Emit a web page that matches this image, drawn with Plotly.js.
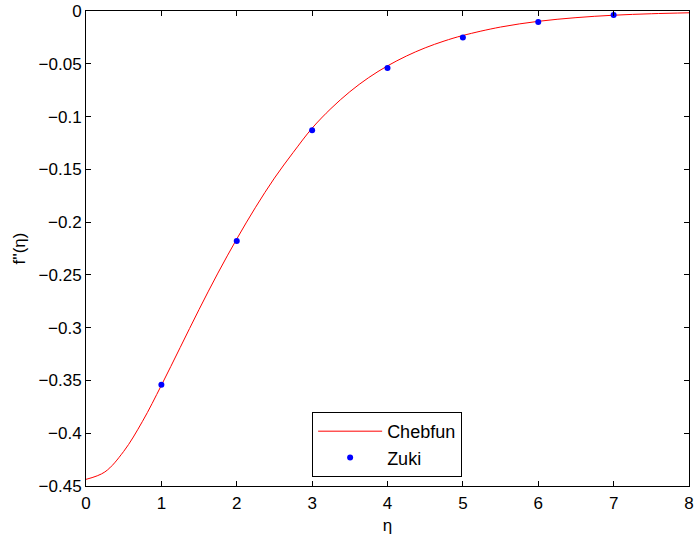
<!DOCTYPE html>
<html>
<head>
<meta charset="utf-8">
<script src="https://cdn.plot.ly/plotly-3.0.1.min.js"></script>
<style>html,body{margin:0;padding:0;background:#fff;}#chart{width:694px;height:538px;}</style>
</head>
<body>
<div id="chart"></div>
<script>
// Chebfun solution f''(eta)
const etaCurve = [0,0.25,0.5,0.75,1.0,1.25,1.5,1.75,2.0,2.25,2.5,2.75,3.0,3.25,3.5,3.75,4.0,4.25,4.5,4.75,5.0,5.5,6.0,6.5,7.0,7.5,8.0];
const fppCurve = [-0.4437,-0.4367,-0.4172,-0.3887,-0.3546,-0.3187,-0.2828,-0.2483,-0.2160,-0.1859,-0.1583,-0.1339,-0.1110,-0.0924,-0.0765,-0.0631,-0.0520,-0.0427,-0.0349,-0.0285,-0.0232,-0.0152,-0.0098,-0.0063,-0.0040,-0.0026,-0.0017];
// Zuki data points
const etaZuki = [1,2,3,4,5,6,7];
const fppZuki = [-0.354,-0.218,-0.113,-0.054,-0.025,-0.0105,-0.0037];
// Tick labels
const xTickVals = [0,1,2,3,4,5,6,7,8];
const xTickText = ['0','1','2','3','4','5','6','7','8'];
const yTickVals = [0,-0.05,-0.1,-0.15,-0.2,-0.25,-0.3,-0.35,-0.4,-0.45];
const yTickText = ['0','\u22120.05','\u22120.1','\u22120.15','\u22120.2','\u22120.25','\u22120.3','\u22120.35','\u22120.4','\u22120.45'];

const font = {family: 'Liberation Sans, Arial, sans-serif', size: 17, color: '#000'};
const legendFont = {family: 'Liberation Sans, Arial, sans-serif', size: 18, color: '#000'};

const traces = [
  {x: etaCurve, y: fppCurve, name: 'Chebfun', mode: 'lines', type: 'scatter',
   line: {color: '#ff0000', width: 1, shape: 'spline', smoothing: 1}},
  {x: etaZuki, y: fppZuki, name: 'Zuki', mode: 'markers', type: 'scatter',
   marker: {color: '#0000ff', size: 6}}
];

const axisCommon = {
  showline: true, mirror: 'ticks', linecolor: '#000', linewidth: 1,
  ticks: 'inside', ticklen: 5, tickcolor: '#000', tickwidth: 1,
  showgrid: false, zeroline: false, tickfont: font, tickmode: 'array'
};

const layout = {
  width: 694, height: 538,
  margin: {l: 86, r: 5, t: 11, b: 52},
  paper_bgcolor: '#fff', plot_bgcolor: '#fff',
  font: font,
  showlegend: true,
  legend: {x: 0.375, y: 0.019, xanchor: 'left', yanchor: 'bottom',
           bordercolor: '#000', borderwidth: 1, bgcolor: '#fff', font: legendFont,
           itemwidth: 64},
  xaxis: Object.assign({}, axisCommon, {
    range: [0, 8], tickvals: xTickVals, ticktext: xTickText,
    ticklabelstandoff: 2,
    title: {text: '\u03b7', font: font, standoff: 6}
  }),
  yaxis: Object.assign({}, axisCommon, {
    range: [-0.45, 0], tickvals: yTickVals, ticktext: yTickText,
    ticklabelstandoff: 0,
    title: {text: "f''(\u03b7)", font: font, standoff: 8}
  })
};

Plotly.newPlot('chart', traces, layout, {staticPlot: true, displayModeBar: false});
</script>
</body>
</html>
